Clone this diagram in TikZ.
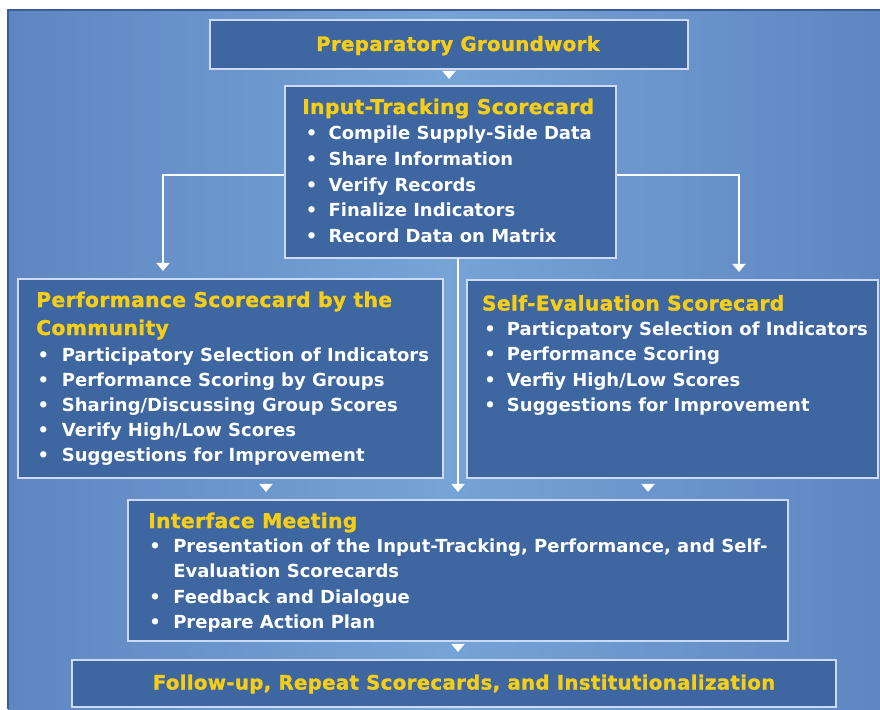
\documentclass[tikz,border=0pt]{standalone}
\usepackage{fontspec}
\setmainfont{DejaVu Sans}
\newfontfamily\headfont[UprightFont={* Bold}, FakeBold=1.3, LetterSpace=1.7]{DejaVu Sans}
\usetikzlibrary{fit,arrows.meta,calc}

\definecolor{boxfill}{RGB}{62,102,160}
\definecolor{boxline}{RGB}{205,218,240}
\definecolor{headyellow}{RGB}{246,206,24}
\definecolor{bgside}{RGB}{95,134,194}
\definecolor{bgmid}{RGB}{118,164,215}
\definecolor{bgframe}{RGB}{58,92,152}

\tikzset{
  box/.style={draw=boxline, fill=boxfill, line width=1.6pt, inner sep=0pt, rectangle},
  headtext/.style={text=headyellow, inner sep=0pt, font=\headfont\fontsize{15.2pt}{18pt}\selectfont},
  titletext/.style={headtext, font=\headfont\fontsize{14.8pt}{18pt}\selectfont},
  itemtext/.style={text=white, inner sep=0pt, anchor=base west, font=\bfseries\fontsize{13.5pt}{18pt}\selectfont},
  itemdot/.style={text=white, inner sep=0pt, anchor=base, font=\bfseries\fontsize{13.5pt}{18pt}\selectfont},
  link/.style={draw=white, line width=1.5pt},
  tip/.style={-{Triangle[width=9.75pt,length=6pt]}},
}

% #1 prefix, #2 dot x, #3 text x, #4 first baseline, #5 line step, #6 items
\newcommand\itemlist[6]{%
  \foreach \t [count=\i] in {#6} {
    \node[itemdot] (#1-d\i) at (#2, {#4+#5*(\i-1)}) {\textbullet};
    \node[itemtext] (#1-\i) at (#3, {#4+#5*(\i-1)}) {\t};
  }%
}

\begin{document}
\begin{tikzpicture}[x=0.75pt, y=-0.75pt]
  \useasboundingbox (0,0) rectangle (880,709);
  \fill[white] (0,0) rectangle (880,709);

  % panel background
  \shade[left color=bgside, right color=bgside, middle color=bgmid] (8,10) rectangle (880,709);
  \draw[bgframe, line width=1.5pt] (8,709) -- (8,10) -- (880,10);

  % boxes
  \node[box, fit={(210,20) (688,69)}] (b1) {};
  \node[box, fit={(285,86) (616,258)}] (b2) {};
  \node[box, fit={(18,279) (443,478)}] (b3) {};
  \node[box, fit={(467,280) (878,478)}] (b4) {};
  \node[box, fit={(128,500) (788,641)}] (b5) {};
  \node[box, fit={(72,660) (836,707)}] (b6) {};

  % connectors
  \coordinate (mid) at (458,0);
  \coordinate (lx) at (163,0);
  \coordinate (rx) at (739,0);
  \coordinate (lx2) at (266,0);
  \coordinate (rx2) at (648,0);

  \draw[link, tip, shorten <=2.25pt, shorten >=4.5pt] (b1.south) -- (b1.south |- b2.north);
  \draw[link, tip, shorten >=5.25pt] (b2.south -| mid) -- (b5.north -| mid);
  \draw[link, tip, shorten >=5.25pt] ([yshift=-2.25pt]b2.west) -| (lx |- b3.north);
  \draw[link, tip, shorten >=5.25pt] ([yshift=-2.25pt]b2.east) -| (rx |- b4.north);
  \draw[link, tip, shorten <=5.25pt, shorten >=5.25pt] (lx2 |- b3.south) -- (lx2 |- b5.north);
  \draw[link, tip, shorten <=5.25pt, shorten >=5.25pt] (rx2 |- b4.south) -- (rx2 |- b5.north);
  \draw[link, tip, shorten <=3pt, shorten >=5.25pt] (b5.south -| mid) -- (mid |- b6.north);

  % texts
  \node[titletext, anchor=base] (h1) at (458,51) {Preparatory Groundwork};

  \node[headtext, anchor=base west] (h2) at (302,114) {Input-Tracking Scorecard};
  \itemlist{it}{311.7}{328.3}{140}{25.5}{Compile Supply-Side Data, Share Information, Verify Records, Finalize Indicators, Record Data on Matrix}

  \node[headtext, anchor=base west] (h3) at (36,307) {Performance Scorecard by the};
  \node[headtext, anchor=base west] (h3b) at (36,335) {Community};
  \itemlist{pf}{43.3}{61.7}{361.7}{25}{Participatory Selection of Indicators, Performance Scoring by Groups, Sharing/Discussing Group Scores, Verify High/Low Scores, Suggestions for Improvement}

  \node[headtext, anchor=base west] (h4) at (481.7,310.5) {Self-Evaluation Scorecard};
  \itemlist{se}{490}{506.7}{335}{25.5}{Particpatory Selection of Indicators, Performance Scoring, Verfiy High/Low Scores, Suggestions for Improvement}

  \node[headtext, anchor=base west] (h5) at (148,528) {Interface Meeting};
  \node[itemdot] (im-d1) at (155,552) {\textbullet};
  \node[itemtext] (im-1) at (173,552) {Presentation of the Input-Tracking, Performance, and Self-};
  \node[itemtext] (im-1b) at (173,577.5) {Evaluation Scorecards};
  \node[itemdot] (im-d2) at (155,603) {\textbullet};
  \node[itemtext] (im-2) at (173,603) {Feedback and Dialogue};
  \node[itemdot] (im-d3) at (155,628.5) {\textbullet};
  \node[itemtext] (im-3) at (173,628.5) {Prepare Action Plan};

  \node[titletext, anchor=base] (h6) at (464,689.5) {Follow-up, Repeat Scorecards, and Institutionalization};
\end{tikzpicture}
\end{document}
